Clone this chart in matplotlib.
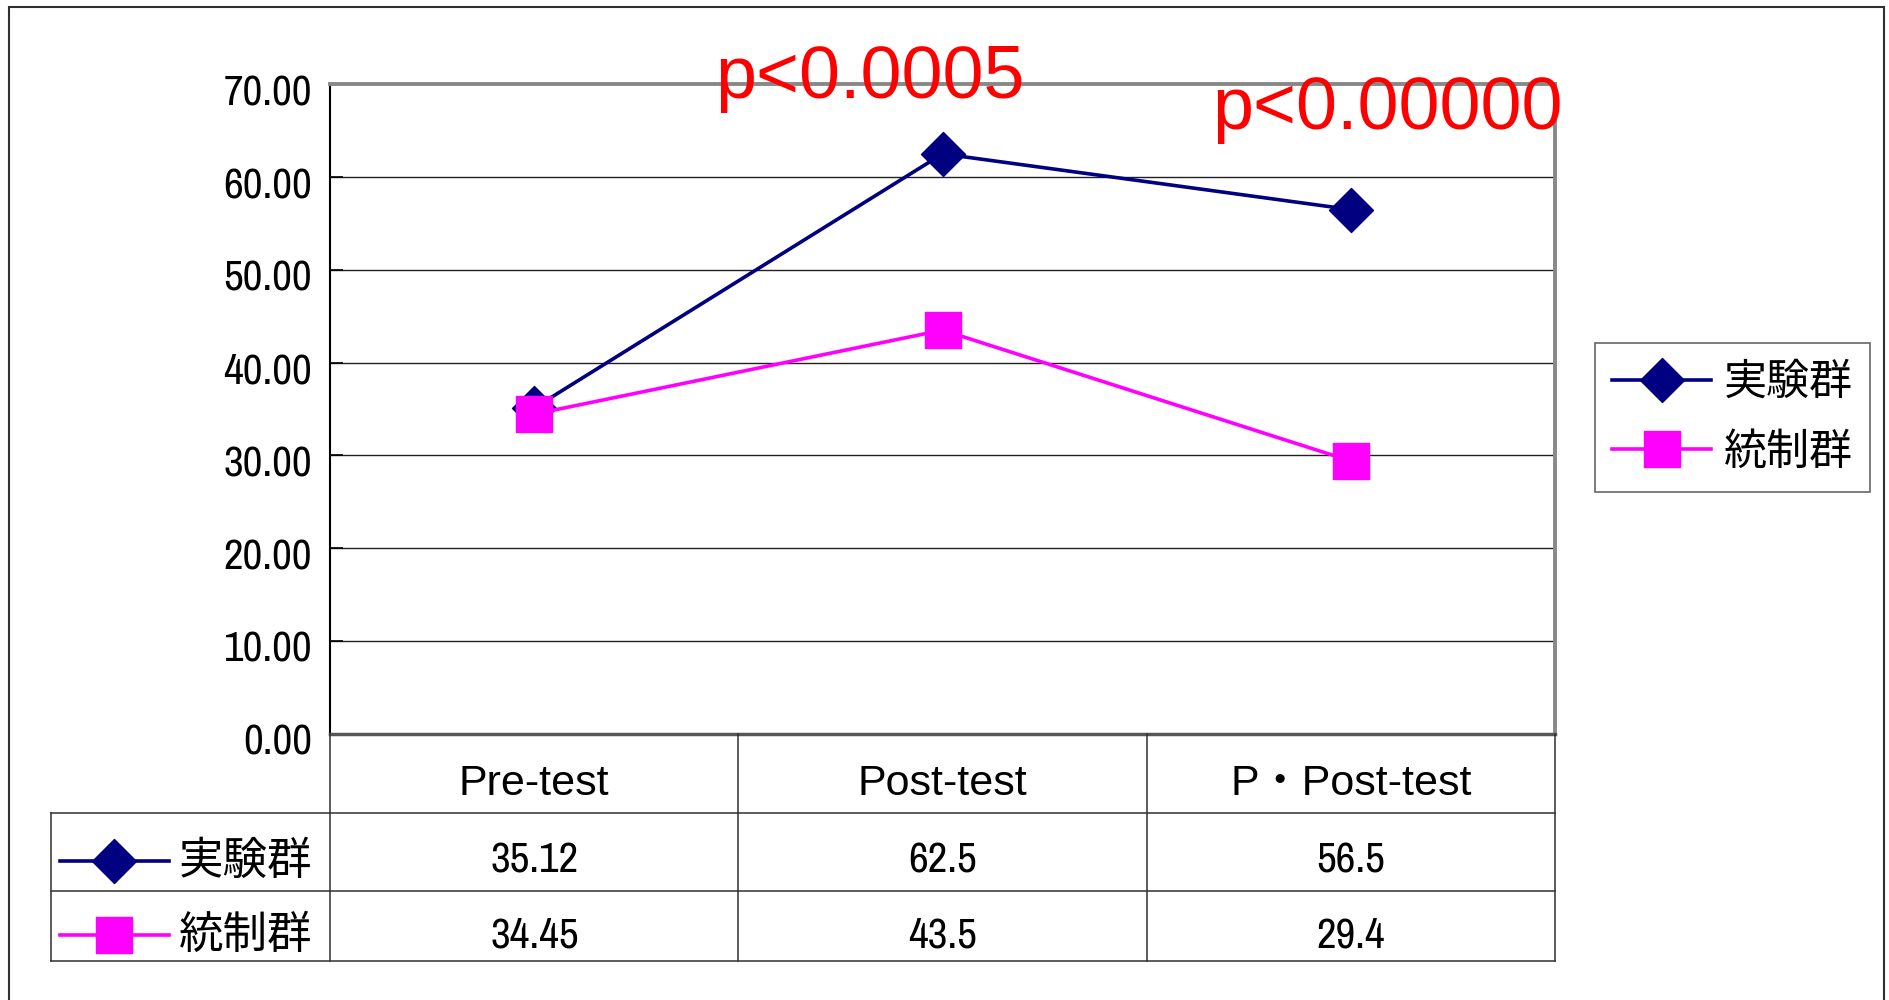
import matplotlib
matplotlib.use("Agg")
import matplotlib.pyplot as plt
from matplotlib.lines import Line2D
from matplotlib.markers import MarkerStyle
from matplotlib.patches import Rectangle
from matplotlib.transforms import ScaledTranslation


# data
categories = ["Pre-test", "Post-test", "P・Post-test"]
groups = ["実験群", "統制群"]
exp_scores = [35.12, 62.5, 56.5]
ctl_scores = [34.45, 43.5, 29.4]
p_labels = ["p<0.0005", "p<0.00000"]
y_ticks = [0, 10, 20, 30, 40, 50, 60, 70]

# fonts and series styles
NUM_FONT = ["Archivo Narrow", "Liberation Sans", "Noto Sans CJK JP"]
LAT_FONT = ["Liberation Sans", "Noto Sans CJK JP"]
CJK_FONT = ["Noto Sans CJK JP", "DejaVu Sans"]
styles = [
    dict(color="#000080", marker="D", markersize=22, lw=2.6),
    dict(color="#ff00ff", marker="s", markersize=26, lw=2.6),
]


def draw_series(axis, xs, ys, st, **kw):
    ln = Line2D(xs, ys, color=st["color"], lw=st["lw"],
                marker=MarkerStyle(st["marker"], joinstyle="round"),
                markersize=st["markersize"], markerfacecolor=st["color"],
                markeredgecolor=st["color"], solid_joinstyle="round",
                clip_on=False, **kw)
    axis.add_line(ln)
    return ln


fig = plt.figure(figsize=(18.9, 10), dpi=100)

# outer chart frame
fig.patches.append(Rectangle((0.005, -0.02), 0.992, 1.013,
                             transform=fig.transFigure, fill=False,
                             ec="#303030", lw=1.5))

# line chart
ax = fig.add_axes([0.1747, 0.2663, 0.648, 0.6494])
x = list(range(len(categories)))
lines = []
for vals, name, st in zip([exp_scores, ctl_scores], groups, styles):
    lines.append(draw_series(ax, x, vals, st, label=name, zorder=3))

ax.set_xlim(-0.5, 2.5)
ax.set_ylim(0, 70)
ax.set_xticks([])
ax.set_yticks(y_ticks)
ax.set_yticklabels([f"{v:.2f}" for v in y_ticks], family=NUM_FONT,
                   fontsize=31)
ax.tick_params(axis="y", direction="in", length=9, width=1.2, pad=13)
# labels sit a little below their ticks
shift = ScaledTranslation(0, -4 / 72, fig.dpi_scale_trans)
for lab in ax.get_yticklabels():
    lab.set_transform(lab.get_transform() + shift)
for v in y_ticks[1:-1]:
    ax.axhline(v, color="#202020", lw=1.0, zorder=1)
ax.spines["left"].set(color="black", lw=1.5)
ax.spines["bottom"].set(color="#555555", lw=2.5)
ax.spines["top"].set(color="#888888", lw=2.8)
ax.spines["right"].set(color="#888888", lw=2.8)

# significance notes
p_pos = [(0.822, 68.5), (2.09, 65.2)]
for txt, (px, py) in zip(p_labels, p_pos):
    ax.text(px, py, txt, color="red", fontsize=53, family=LAT_FONT,
            ha="center", va="baseline", zorder=4)

# legend
leg = fig.legend(handles=lines, loc="upper left",
                 bbox_to_anchor=(0.8438, 0.6566),
                 prop=dict(family=CJK_FONT, size=31),
                 frameon=True, fancybox=False, edgecolor="#404040",
                 handlelength=2.3, handletextpad=0.3, borderpad=0.4,
                 labelspacing=0.6, borderaxespad=0)
leg.get_frame().set_linewidth(1.2)

# data table under the chart
tab = fig.add_axes([0.1747, 0.0386, 0.648, 0.2277])
tab.set_xlim(-0.5, 2.5)
tab.set_ylim(0, 1)
tab.axis("off")
row_edges = [1.0, 0.651, 0.307, 0.0]
left_x = -1.185
kw = dict(color="#303030", lw=1.1, clip_on=False)
for xe in [-0.5, 0.5, 1.5, 2.5]:
    tab.plot([xe, xe], [0, 1], **kw)
tab.plot([left_x, left_x], [0, row_edges[1]], **kw)
for ye in row_edges[1:]:
    tab.plot([left_x, 2.5], [ye, ye], **kw)

for i, cat in enumerate(categories):
    tab.text(i, 0.78, cat, ha="center", va="center", family=LAT_FONT,
             fontsize=31)

for r, (vals, name, st) in enumerate(zip([exp_scores, ctl_scores], groups,
                                        styles)):
    yc = (row_edges[r + 1] + row_edges[r + 2]) / 2 - 0.038
    for i, v in enumerate(vals):
        tab.text(i, yc, f"{v:g}", ha="center", va="center",
                 family=NUM_FONT, fontsize=31)
    # legend key: short line with the marker in the middle
    draw_series(tab, [-1.161, -1.029, -0.896], [yc] * 3, st, markevery=[1])
    tab.text(-0.87, yc, name, ha="left", va="center", family=CJK_FONT,
             fontsize=32)

fig.savefig("out.png", dpi=100)
